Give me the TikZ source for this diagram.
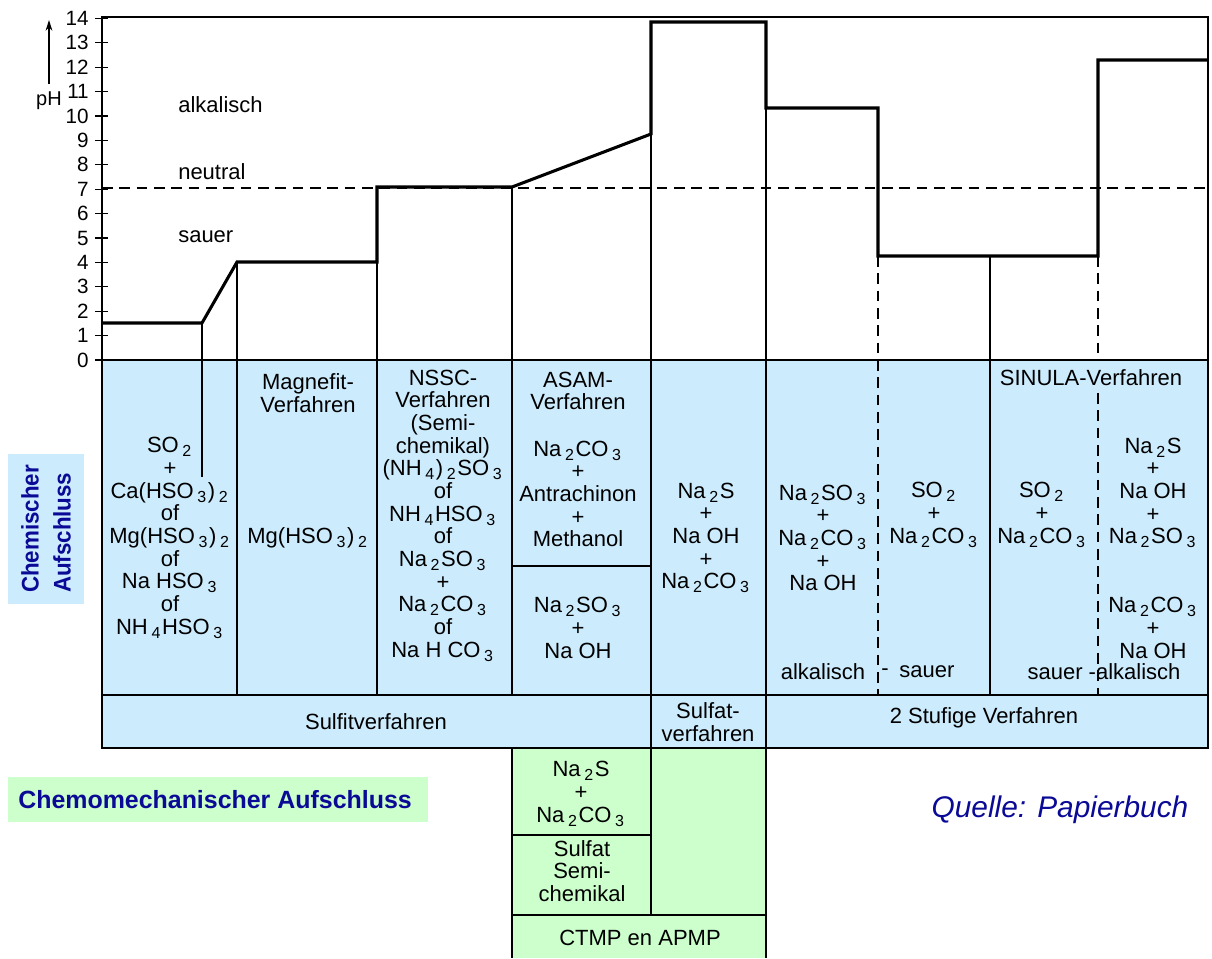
\documentclass[tikz,border=0pt]{standalone}
\usepackage{fontspec}
\setmainfont{Liberation Sans}
\usepackage{graphicx}
\usetikzlibrary{arrows.meta}
\definecolor{bluebg}{RGB}{204,235,252}
\definecolor{greenbg}{RGB}{204,255,204}
\definecolor{navy}{RGB}{10,10,150}
\newcommand{\chs}[1]{\,\raisebox{-0.35ex}{\fontsize{12pt}{12pt}\selectfont #1}\kern1.2pt}
\tikzset{
  lbl/.style={font=\fontsize{16.5pt}{17pt}\selectfont, align=center, inner sep=0pt},
  thinline/.style={line width=0.9pt},
  thickline/.style={line width=2.3pt, line join=miter},
  frameline/.style={line width=1.1pt},
  dashline/.style={line width=0.9pt, dash pattern=on 8pt off 5pt},
  ticklbl/.style={font=\fontsize{15.5pt}{16pt}\selectfont, anchor=east, inner sep=0pt},
}
\begin{document}
\begin{tikzpicture}[x=0.75pt, y=-0.75pt]
\useasboundingbox (0,0) rectangle (1212,958);
% backgrounds
\fill[bluebg] (102,360) rectangle (1208,748);
\fill[greenbg] (512,748) rectangle (766,958);
\fill[bluebg] (8,454) rectangle (84,604);
\fill[greenbg] (8,777) rectangle (428,822);
% neutral line
\draw[dashline] (102,188) -- (1208,188);
% frame
\draw[frameline] (102,748) -- (102,17) -- (1208,17) -- (1208,748) -- cycle;
\draw[frameline] (102,360) -- (1208,360);
\draw[frameline] (102,695) -- (1208,695);
% ticks and labels
\foreach \i in {0,...,14} {
  \draw[thinline] (95,{360-24.4*\i}) -- (108,{360-24.4*\i});
  \node[ticklbl] (t\i) at (89,{360-24.4*\i}) {\i};
}
\coordinate (arrA) at (49,84);
\coordinate (arrB) at (49,20);
\draw[line width=1.1pt,-{Stealth[length=8pt,width=5pt]}] (arrA) -- (arrB);
\node[font=\fontsize{15pt}{16pt}\selectfont, inner sep=0pt] (ph) at (49,101) {pH};
% region labels
\node[lbl, anchor=west] (alk) at (178,105) {alkalisch};
\node[lbl, anchor=west] (neu) at (178,172) {neutral};
\node[lbl, anchor=west] (sau) at (178,237) {sauer};
% thin vertical lines
\draw[thinline] (202,323) -- (202,477);
\draw[thinline] (237,262) -- (237,695);
\draw[line width=1.3pt] (377,262) -- (377,695);
\draw[thinline] (512,187) -- (512,695);
\draw[line width=1.3pt] (651,134) -- (651,915);
\draw[line width=1.1pt] (766,108) -- (766,958);
\draw[dashline] (878,256) -- (878,695);
\draw[thinline] (990,256) -- (990,695);
\draw[dashline] (1098,256) -- (1098,360);
\draw[dashline] (1098,393) -- (1098,695);
\draw[thinline] (512,566) -- (651,566);
% green region lines
\draw[thinline] (512,748) -- (512,958);
\draw[thinline] (512,835) -- (651,835);
\draw[thinline] (512,915) -- (766,915);
% pH step curve
\draw[thickline] (102,323) -- (202,323) -- (237,262) -- (377,262) -- (377,187) -- (512,187) -- (651,134) -- (651,22) -- (766,22) -- (766,108) -- (878,108) -- (878,256) -- (1098,256) -- (1098,60) -- (1208,60);
% column texts
\node[lbl] (c1) at (170,538) {SO\chs{2}\\+\\Ca(HSO\chs{3})\chs{2}\\of\\Mg(HSO\chs{3})\chs{2}\\of\\Na HSO\chs{3}\\of\\NH\chs{4}HSO\chs{3}};
\node[lbl] (c2h) at (308,393) {Magnefit-\\Verfahren};
\node[lbl] (c2) at (308,538) {Mg(HSO\chs{3})\chs{2}};
\node[lbl] (c3) at (443,515.5) {NSSC-\\Verfahren\\(Semi-\\chemikal)\\(NH\chs{4})\chs{2}SO\chs{3}\\of\\NH\chs{4}HSO\chs{3}\\of\\Na\chs{2}SO\chs{3}\\+\\Na\chs{2}CO\chs{3}\\of\\Na H CO\chs{3}};
\node[lbl] (c4h) at (578,391) {ASAM-\\Verfahren};
\node[lbl] (c4a) at (578,494) {Na\chs{2}CO\chs{3}\\+\\Antrachinon\\+\\Methanol};
\node[lbl] (c4b) at (578,628) {Na\chs{2}SO\chs{3}\\+\\Na OH};
\node[lbl] (c5) at (706,538) {Na\chs{2}S\\+\\Na OH\\+\\Na\chs{2}CO\chs{3}};
\node[lbl] (c6) at (823,538) {Na\chs{2}SO\chs{3}\\+\\Na\chs{2}CO\chs{3}\\+\\Na OH};
\node[lbl] (c6b) at (823,672) {alkalisch};
\node[lbl] (c67) at (885,672) {-};
\node[lbl] (c7b) at (927,672) {sauer};
\node[lbl] (c7) at (934,515) {SO\chs{2}\\+\\Na\chs{2}CO\chs{3}};
\node[lbl] (c8) at (1042,515) {SO\chs{2}\\+\\Na\chs{2}CO\chs{3}};
\node[lbl] (sinula) at (1091,378) {SINULA-Verfahren};
\node[lbl] (c9a) at (1153,493) {Na\chs{2}S\\+\\Na OH\\+\\Na\chs{2}SO\chs{3}};
\node[lbl] (c9b) at (1153,628) {Na\chs{2}CO\chs{3}\\+\\Na OH};
\node[lbl] (c89b) at (1104,672) {sauer -alkalisch};
% bottom row
\node[lbl] (sulfit) at (376,722) {Sulfitverfahren};
\node[lbl] (sulfat) at (708,722) {Sulfat-\\verfahren};
\node[lbl] (stufig) at (984,718) {2 Stufige Verfahren};
% green region
\node[lbl] (g1) at (581,794) {Na\chs{2}S\\+\\Na\chs{2}CO\chs{3}};
\node[lbl] (g2) at (582,871) {Sulfat\\Semi-\\chemikal};
\node[lbl] (g3) at (640,938) {CTMP en APMP};
% side labels
\node[font=\bfseries\fontsize{18pt}{24pt}\selectfont, text=navy, rotate=90, align=left, inner sep=0pt] (chem) at (46,529) {\scalebox{0.93}[1]{Chemischer}\\\scalebox{0.93}[1]{Aufschluss}};
\node[font=\bfseries\fontsize{18.7pt}{20pt}\selectfont, text=navy, anchor=west, inner sep=0pt] (chemo) at (18,799.5) {Chemomechanischer Aufschluss};
\node[font=\itshape\fontsize{22.4pt}{24pt}\selectfont, text=navy, inner sep=0pt] (quelle) at (1060,810) {Quelle: Papierbuch};
\end{tikzpicture}
\end{document}
